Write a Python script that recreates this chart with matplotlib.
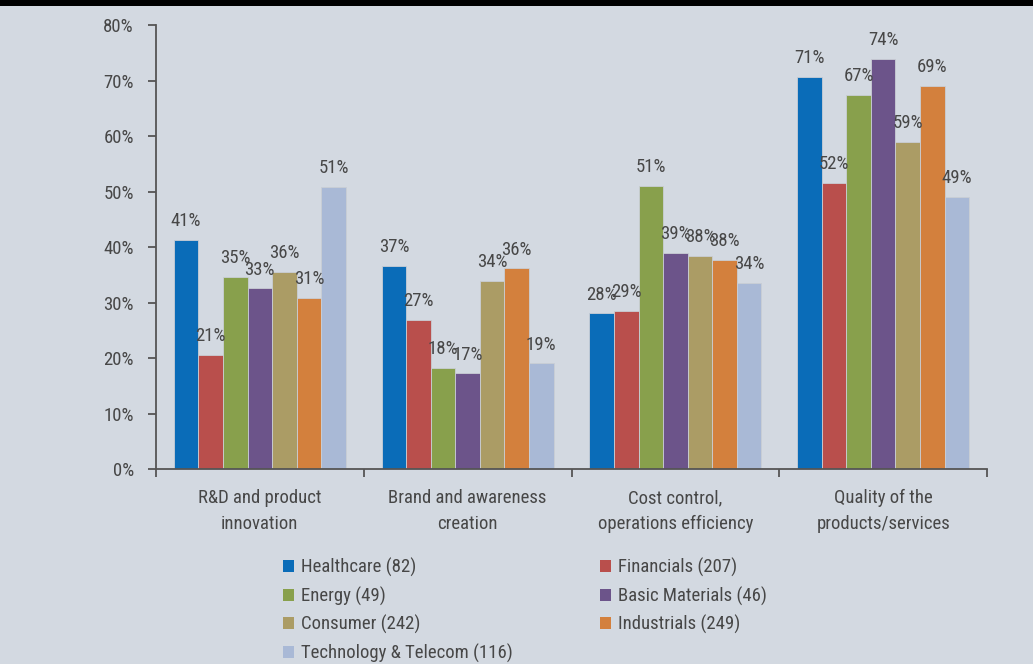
import numpy as np
import matplotlib
matplotlib.use("Agg")
import matplotlib.pyplot as plt
from matplotlib.patches import Rectangle, Patch

plt.rcParams['font.family'] = ['Roboto Condensed', 'DejaVu Sans']

categories = ["R&D and product\ninnovation", "Brand and awareness\ncreation",
              "Cost control,\noperations efficiency", "Quality of the\nproducts/services"]
sectors = ["Healthcare (82)", "Financials (207)", "Energy (49)", "Basic Materials (46)",
           "Consumer (242)", "Industrials (249)", "Technology & Telecom (116)"]
colors = ["#0a6cb8", "#b94f4c", "#88a04c", "#6c548a", "#ab9c65", "#d3803d", "#a9b9d6"]

# values in percent, one list per sector, in category order
healthcare = [41.4, 36.7, 28.1, 70.7]
financials = [20.7, 27.0, 28.6, 51.6]
energy = [34.7, 18.3, 51.1, 67.4]
basic_materials = [32.6, 17.3, 39.0, 73.9]
consumer = [35.6, 34.0, 38.5, 59.0]
industrials = [30.9, 36.2, 37.8, 69.1]
tech_telecom = [50.9, 19.1, 33.6, 49.1]
series = [healthcare, financials, energy, basic_materials, consumer, industrials, tech_telecom]

bg = "#d3d9e1"
txt = "#474747"
fs = 13.5

fig = plt.figure(figsize=(10.33, 6.64), dpi=100, facecolor=bg)
ax = fig.add_axes([0.151, 0.293, 0.8045, 0.669])
ax.set_facecolor(bg)

x = np.arange(len(categories))
w = 0.828 / 7
handles = []
for i, (vals, col, name) in enumerate(zip(series, colors, sectors)):
    pos = x - 0.414 + w * (i + 0.5)
    ax.bar(pos, vals, w, color=col, edgecolor="#c9ced5", linewidth=0.6)
    for xp, v in zip(pos, vals):
        ax.text(xp, v + 2.5, "%d%%" % round(v), ha="center", va="baseline",
                fontsize=fs, color=txt)
    handles.append(Patch(facecolor=col, label=name))

ax.set_xlim(-0.5, 3.5)
ax.set_ylim(0, 80)
ax.set_yticks(np.arange(0, 81, 10))
ax.set_yticklabels(["%d%%" % t for t in range(0, 81, 10)])
ax.set_xticks([-0.5, 0.5, 1.5, 2.5, 3.5])
ax.set_xticklabels([])
ax.set_xticks(x, minor=True)
ax.set_xticklabels(categories, minor=True, fontsize=fs, color=txt, linespacing=1.55)
ax.tick_params(axis="x", which="minor", length=0, pad=14)
ax.tick_params(axis="x", which="major", length=6, width=1.3, color="#555555")
ax.tick_params(axis="y", length=6, width=1.3, color="#555555", labelsize=fs,
               labelcolor=txt, pad=10)
for s in ["top", "right"]:
    ax.spines[s].set_visible(False)
for s in ["left", "bottom"]:
    ax.spines[s].set_color("#555555")
    ax.spines[s].set_linewidth(1.3)

# row-wise legend order for two columns
order = [0, 2, 4, 6, 1, 3, 5]
leg = fig.legend([handles[i] for i in order], [sectors[i] for i in order],
                 ncol=2, loc="upper left", bbox_to_anchor=(0.274, 0.160),
                 frameon=False, fontsize=fs, handlelength=0.6, handleheight=0.6,
                 handletextpad=0.35, columnspacing=4.65, labelspacing=0.5,
                 borderpad=0, borderaxespad=0)
for t in leg.get_texts():
    t.set_color(txt)

fig.add_artist(Rectangle((0, 1 - 6 / 664), 1, 6 / 664, transform=fig.transFigure,
                         facecolor="black", edgecolor="none"))

fig.savefig("out.png", dpi=100, facecolor=bg)
